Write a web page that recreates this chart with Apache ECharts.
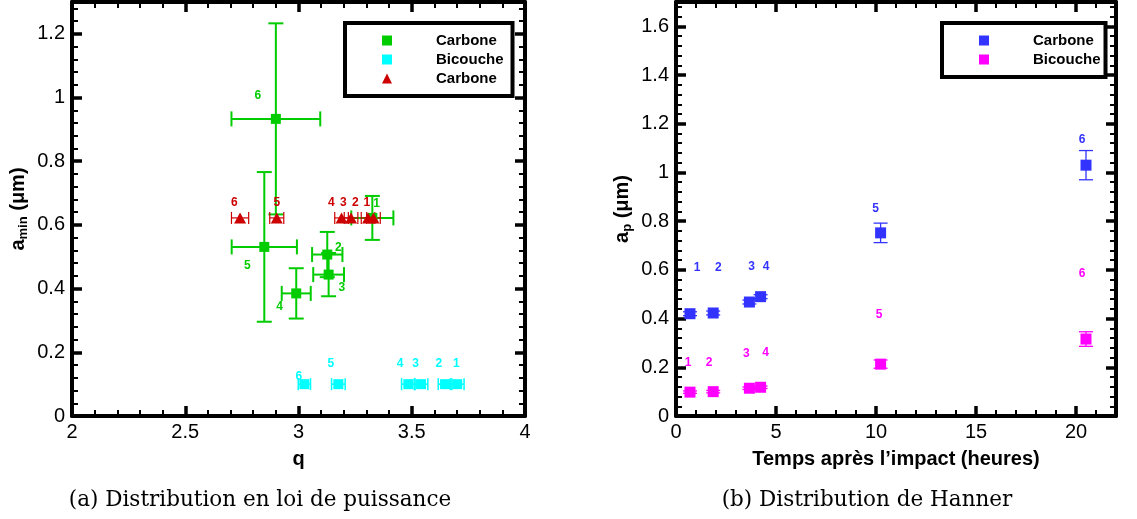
<!DOCTYPE html>
<html><head><meta charset="utf-8">
<script src="https://cdn.jsdelivr.net/npm/echarts@6/dist/echarts.min.js"></script>
<style>html,body{margin:0;padding:0;background:#fff}#c{width:1137px;height:519px}</style>
</head><body><div id="c"></div>
<script>
// ---------- Left panel: power-law distribution (q, a_min) ----------
const plLegendNames = ['Carbone', 'Bicouche', 'Carbone'];
const plPointLabels = ['1', '2', '3', '4', '5', '6'];
// green squares (Carbone)
const plGreenQ    = [3.326, 3.127, 3.133, 2.990, 2.849, 2.900];
const plGreenA    = [0.622, 0.507, 0.444, 0.385, 0.531, 0.933];
const plGreenQErr = [0.093, 0.067, 0.068, 0.064, 0.144, 0.196];
const plGreenAErr = [0.069, 0.071, 0.068, 0.079, 0.235, 0.300];
const plGreenLabelQ = [3.345, 3.176, 3.191, 2.917, 2.774, 2.820];
const plGreenLabelA = [0.667, 0.529, 0.403, 0.343, 0.473, 1.006];
// cyan squares (Bicouche)
const plCyanQ    = [3.701, 3.647, 3.541, 3.485, 3.176, 3.026];
const plCyanA    = [0.100, 0.100, 0.100, 0.100, 0.100, 0.100];
const plCyanQErr = [0.030, 0.030, 0.030, 0.030, 0.030, 0.027];
const plCyanAErr = [0, 0, 0, 0, 0, 0];
const plCyanLabelQ = [3.697, 3.620, 3.517, 3.448, 3.143, 3.002];
const plCyanLabelA = [0.163, 0.163, 0.163, 0.163, 0.163, 0.125];
// red triangles (Carbone)
const plRedQ    = [3.331, 3.307, 3.232, 3.190, 2.904, 2.742];
const plRedA    = [0.622, 0.622, 0.622, 0.622, 0.622, 0.622];
const plRedQErr = [0.030, 0.030, 0.030, 0.030, 0.031, 0.038];
const plRedAErr = [0, 0, 0, 0, 0, 0];
const plRedLabelQ = [3.302, 3.251, 3.198, 3.145, 2.904, 2.717];
const plRedLabelA = [0.669, 0.669, 0.669, 0.669, 0.669, 0.669];

// ---------- Right panel: Hanner distribution (time, a_p) ----------
const hLegendNames = ['Carbone', 'Bicouche'];
const hPointLabels = ['1', '2', '3', '4', '5', '6'];
const hTime     = [0.70, 1.86, 3.67, 4.23, 10.23, 20.50];
const hTimeErr  = [0, 0, 0, 0, 0, 0];
const hBlueA    = [0.420, 0.423, 0.468, 0.490, 0.752, 1.030];
const hBlueAErr = [0.008, 0.008, 0.008, 0.008, 0.040, 0.060];
const hMagA     = [0.098, 0.100, 0.114, 0.118, 0.213, 0.316];
const hMagAErr  = [0.005, 0.005, 0.005, 0.005, 0.017, 0.030];
const hBlueLabelT = [1.06, 2.12, 3.78, 4.51, 9.98, 20.31];
const hBlueLabelA = [0.608, 0.608, 0.614, 0.614, 0.850, 1.133];
const hMagLabelT  = [0.61, 1.66, 3.52, 4.48, 10.15, 20.31];
const hMagLabelA  = [0.217, 0.217, 0.254, 0.262, 0.418, 0.583];

// axis texts
const plXName = 'q';
const plYName = ['a', 'min', ' (μm)'];
const hXName = 'Temps après l’impact (heures)';
const hYName = ['a', 'p', ' (μm)'];
const captions = ['(a) Distribution en loi de puissance', '(b) Distribution de Hanner'];

// ---------- styling ----------
const SANS = 'Liberation Sans, Arial, Helvetica, sans-serif';
const SERIF = 'DejaVu Serif, serif';
const C = { green: '#00cc00', cyan: '#00ffff', red: '#cc0000', blue: '#3333ff', mag: '#ff00ff' };

const grids = [
  { left: 72, top: 2, width: 453, height: 414 },
  { left: 676, top: 2, width: 440, height: 414 }
];

function mkAxes(dim, gridIndex, min, max, interval, minorInterval, name, nameGap, rich) {
  const pos = dim === 'x' ? ['bottom', 'top'] : ['left', 'right'];
  const out = [];
  pos.forEach((p, k) => {
    const main = k === 0;
    out.push({
      type: 'value', gridIndex, position: p, min, max, interval,
      axisLine: { show: true, onZero: false, lineStyle: { color: '#000', width: 4 } },
      axisTick: { show: true, inside: true, length: 10, lineStyle: { color: '#000', width: 3.5 } },
      axisLabel: main ? { show: true, fontSize: 20, fontFamily: SANS, color: '#000', margin: dim === 'x' ? 6 : 7, showMaxLabel: max % interval < 1e-9 || Math.abs(max % interval - interval) < 1e-9 } : { show: false },
      splitLine: { show: false },
      name: main ? name : '',
      nameLocation: 'middle', nameGap: nameGap, nameRotate: dim === 'y' ? 90 : 0,
      nameTextStyle: main ? (rich ? { rich } : { fontSize: 20, fontWeight: 'bold', fontFamily: SANS, color: '#000' }) : {}
    });
    out.push({
      type: 'value', gridIndex, position: p, min, max, interval: minorInterval,
      axisLine: { show: false, onZero: false },
      axisTick: { show: true, inside: true, length: 6, lineStyle: { color: '#000', width: 2 } },
      axisLabel: { show: false }, splitLine: { show: false }
    });
  });
  return out;
}

const yRich = {
  b: { fontSize: 20, fontWeight: 'bold', fontFamily: SANS, color: '#000' },
  s: { fontSize: 13, fontWeight: 'bold', fontFamily: SANS, color: '#000', padding: [10, 0, 0, 0] }
};

const xAxes = [].concat(
  mkAxes('x', 0, 2, 4, 0.5, 0.1, plXName, 33),
  mkAxes('x', 1, 0, 22, 5, 1, hXName, 33)
);
const yAxes = [].concat(
  mkAxes('y', 0, 0, 1.3, 0.2, 0.04, '{b|' + plYName[0] + '}{s|' + plYName[1] + '}{b|' + plYName[2] + '}', 42, yRich),
  mkAxes('y', 1, 0, 1.7, 0.2, 0.04, '{b|' + hYName[0] + '}{s|' + hYName[1] + '}{b|' + hYName[2] + '}', 42, yRich)
);

function errSeries(axisIdx, xs, ys, xe, ye, color, lw, cap) {
  return {
    type: 'custom', xAxisIndex: axisIdx, yAxisIndex: axisIdx, silent: true,
    data: xs.map((x, i) => [x, ys[i], xe[i], ye[i]]),
    renderItem: function (params, api) {
      const x = api.value(0), y = api.value(1), dx = api.value(2), dy = api.value(3);
      const st = { stroke: color, lineWidth: lw };
      const ch = [];
      const h = cap / 2;
      if (dx > 0) {
        const a = api.coord([x - dx, y]), b = api.coord([x + dx, y]);
        ch.push({ type: 'line', shape: { x1: a[0], y1: a[1], x2: b[0], y2: b[1] }, style: st });
        ch.push({ type: 'line', shape: { x1: a[0], y1: a[1] - h, x2: a[0], y2: a[1] + h }, style: st });
        ch.push({ type: 'line', shape: { x1: b[0], y1: b[1] - h, x2: b[0], y2: b[1] + h }, style: st });
      }
      if (dy > 0) {
        const a = api.coord([x, y - dy]), b = api.coord([x, y + dy]);
        ch.push({ type: 'line', shape: { x1: a[0], y1: a[1], x2: b[0], y2: b[1] }, style: st });
        ch.push({ type: 'line', shape: { x1: a[0] - h, y1: a[1], x2: a[0] + h, y2: a[1] }, style: st });
        ch.push({ type: 'line', shape: { x1: b[0] - h, y1: b[1], x2: b[0] + h, y2: b[1] }, style: st });
      }
      return { type: 'group', children: ch };
    }
  };
}

function markSeries(axisIdx, name, xs, ys, color, symbol, size) {
  return {
    type: 'scatter', name, xAxisIndex: axisIdx, yAxisIndex: axisIdx,
    symbol, symbolSize: size, itemStyle: { color, opacity: 1 },
    data: xs.map((x, i) => [x, ys[i]]), silent: true
  };
}

function labelSeries(axisIdx, xs, ys, texts, color) {
  return {
    type: 'custom', xAxisIndex: axisIdx, yAxisIndex: axisIdx, silent: true,
    data: xs.map((x, i) => [x, ys[i]]),
    renderItem: function (params, api) {
      const p = api.coord([api.value(0), api.value(1)]);
      return {
        type: 'text', x: p[0], y: p[1],
        style: { text: texts[params.dataIndex], fill: color, font: 'bold 12px ' + SANS, align: 'center', verticalAlign: 'middle' }
      };
    }
  };
}

const series = [
  errSeries(0, plGreenQ, plGreenA, plGreenQErr, plGreenAErr, C.green, 2, 15),
  markSeries(0, plLegendNames[0], plGreenQ, plGreenA, C.green, 'rect', 10),
  labelSeries(0, plGreenLabelQ, plGreenLabelA, plPointLabels, C.green),
  errSeries(0, plCyanQ, plCyanA, plCyanQErr, plCyanAErr, C.cyan, 1.5, 12),
  markSeries(0, plLegendNames[1] + ' ', plCyanQ, plCyanA, C.cyan, 'rect', 10),
  labelSeries(0, plCyanLabelQ, plCyanLabelA, plPointLabels, C.cyan),
  errSeries(0, plRedQ, plRedA, plRedQErr, plRedAErr, C.red, 1.2, 12),
  markSeries(0, plLegendNames[2] + '  ', plRedQ, plRedA, C.red, 'triangle', [12, 11]),
  labelSeries(0, plRedLabelQ, plRedLabelA, plPointLabels, C.red),
  errSeries(4, hTime, hBlueA, hTimeErr, hBlueAErr, C.blue, 1.3, 14),
  markSeries(4, hLegendNames[0] + '   ', hTime, hBlueA, C.blue, 'rect', 11),
  labelSeries(4, hBlueLabelT, hBlueLabelA, hPointLabels, C.blue),
  errSeries(4, hTime, hMagA, hTimeErr, hMagAErr, C.mag, 1.3, 14),
  markSeries(4, hLegendNames[1] + '    ', hTime, hMagA, C.mag, 'rect', 11),
  labelSeries(4, hMagLabelT, hMagLabelA, hPointLabels, C.mag)
];

function mkLegend(names, left, top, padRight) {
  return {
    orient: 'vertical', left, top, data: names, selectedMode: false,
    borderColor: '#000', borderWidth: 4, borderRadius: 0, backgroundColor: '#fff',
    padding: [10, padRight, 10, 37], itemGap: 4, itemWidth: 10, itemHeight: 10,
    formatter: n => n.trim(),
    textStyle: { fontSize: 15, fontWeight: 'bold', fontFamily: SANS, color: '#000', padding: [0, 0, 0, 39] }
  };
}

const option = {
  backgroundColor: '#fff',
  animation: false,
  grid: grids,
  xAxis: xAxes,
  yAxis: yAxes,
  legend: [
    mkLegend([plLegendNames[0], plLegendNames[1] + ' ', plLegendNames[2] + '  '], 345, 23, 9),
    mkLegend([hLegendNames[0] + '   ', hLegendNames[1] + '    '], 942, 23, 5)
  ],
  graphic: [
    { type: 'text', x: 260, y: 500, style: { text: captions[0], font: '21.5px ' + SERIF, fill: '#000', align: 'center', verticalAlign: 'middle' } },
    { type: 'text', x: 867, y: 500, style: { text: captions[1], font: '21.5px ' + SERIF, fill: '#000', align: 'center', verticalAlign: 'middle' } }
  ],
  series
};

const chart = echarts.init(document.getElementById('c'), null, { renderer: 'canvas' });
chart.setOption(option);
</script>
</body></html>
